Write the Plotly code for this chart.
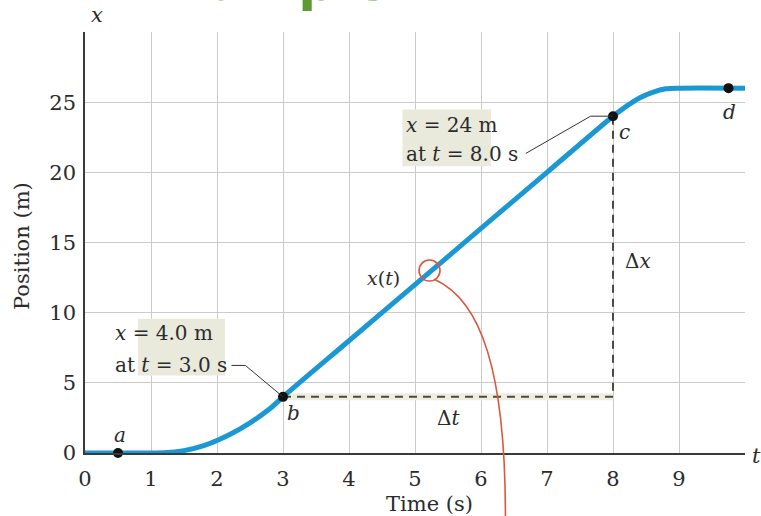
import plotly.graph_objects as go

# Position-time curve of the moving object (seconds, metres)
t_curve = [0.0, 0.5, 1.0, 1.2, 1.5, 1.8, 2.0, 2.2, 2.5, 2.8, 3.0,
           4.0, 5.0, 6.0, 7.0, 8.0, 8.2, 8.4, 8.6, 8.8, 9.0, 10.0]
x_curve = [0.0, 0.0, 0.0, 0.01, 0.17, 0.53, 0.89, 1.33, 2.15, 3.15, 4.0,
           8.0, 12.0, 16.0, 20.0, 24.0, 24.7, 25.3, 25.7, 25.95, 26.0, 26.0]

# Labelled instants a, b, c, d
point_names = ["a", "b", "c", "d"]
point_t = [0.5, 3.0, 8.0, 9.75]
point_x = [0.0, 4.0, 24.0, 26.0]

# Axis ticks
x_ticks = [0, 1, 2, 3, 4, 5, 6, 7, 8, 9, 10]
x_ticktext = ["0", "1", "2", "3", "4", "5", "6", "7", "8", "9", ""]
y_ticks = [0, 5, 10, 15, 20, 25, 30]
y_ticktext = ["0", "5", "10", "15", "20", "25", ""]

# Highlighted spot on x(t)
mark_t, mark_x = 5.22, 13.0

SERIF = "DejaVu Serif"
INK = "#2b2b2b"
BLUE = "#1b98d3"
RED = "#d9583e"
BOX = "#e9e9dc"

tb, xb = point_t[1], point_x[1]
tc, xc = point_t[2], point_x[2]

fig = go.Figure()

# pale band and dashed legs of the displacement triangle (b -> corner -> c)
fig.add_trace(go.Scatter(x=[tb, tc], y=[xb, xb], mode="lines",
                         line=dict(color="#eeeddf", width=7),
                         hoverinfo="skip", showlegend=False))
fig.add_trace(go.Scatter(x=[tb, tc, tc], y=[xb, xb, xc], mode="lines",
                         line=dict(color="#4a4a42", width=2, dash="8px,6px"),
                         hoverinfo="skip", showlegend=False))

# x(t)
fig.add_trace(go.Scatter(x=t_curve, y=x_curve, mode="lines",
                         line=dict(color=BLUE, width=5, shape="spline", smoothing=0.8),
                         hoverinfo="skip", showlegend=False))

# instants a-d
fig.add_trace(go.Scatter(x=point_t, y=point_x, mode="markers",
                         marker=dict(color="#111111", size=10),
                         cliponaxis=False, hoverinfo="skip", showlegend=False))

# red ring on the curve
fig.add_trace(go.Scatter(x=[mark_t], y=[mark_x], mode="markers",
                         marker=dict(symbol="circle-open", size=21, color=RED,
                                     line=dict(color=RED, width=1.6)),
                         cliponaxis=False, hoverinfo="skip", showlegend=False))

shapes = []
# callout boxes
shapes.append(dict(type="rect", xref="x", yref="y", x0=0.80, x1=2.12, y0=5.53, y1=9.57,
                   fillcolor=BOX, line=dict(width=0), layer="above"))
shapes.append(dict(type="rect", xref="x", yref="y", x0=4.81, x1=6.15, y0=20.43, y1=24.47,
                   fillcolor=BOX, line=dict(width=0), layer="above"))
# leader lines
shapes.append(dict(type="path", xref="x", yref="y",
                   path=f"M 2.22,6.24 L 2.43,6.24 L {tb},{xb}",
                   line=dict(color="#333333", width=1), layer="above"))
shapes.append(dict(type="path", xref="x", yref="y",
                   path=f"M 6.68,21.35 L 7.66,{xc} L {tc},{xc}",
                   line=dict(color="#333333", width=1), layer="above"))
# red pointer leaving the ring and running off the bottom
shapes.append(dict(type="path", xref="paper", yref="paper",
                   path="M 0.530,0.412 C 0.600,0.362 0.637,0.196 0.637,-0.15",
                   line=dict(color=RED, width=1.6), layer="above"))
fig.update_layout(shapes=shapes)

ann = []
def label(x, y, text, size=20, xanchor="center", xref="x", yref="y", color=INK, **kw):
    ann.append(dict(x=x, y=y, xref=xref, yref=yref, text=text, showarrow=False,
                    xanchor=xanchor, yanchor="middle",
                    font=dict(family=SERIF, size=size, color=color), **kw))

# callout texts
label(0.425, 8.52, "<i>x</i> = 4.0 m", xanchor="left")
label(0.425, 6.24, "at <i>t</i> = 3.0 s", xanchor="left")
label(4.84, 23.4, "<i>x</i> = 24 m", xanchor="left")
label(4.84, 21.28, "at <i>t</i> = 8.0 s", xanchor="left")

# point names
name_pos = [(0.53, 1.25), (3.16, 2.84), (8.17, 22.9), (9.76, 24.3)]
for nm, (px, py) in zip(point_names, name_pos):
    label(px, py, f"<i>{nm}</i>", size=20)

label(5.51, 2.48, "Δ<i>t</i>", size=20)
label(8.15, 13.7, "Δ<i>x</i>", size=20, xanchor="left")
label(4.81, 12.5, "<i>x</i>(<i>t</i>)", size=19, xanchor="right")

# axis names
label(0.018, 1.040, "<i>x</i>", size=21, xref="paper", yref="paper")
label(1.018, -0.007, "<i>t</i>", size=21, xref="paper", yref="paper")
label(-0.0955, 0.4917, "Position (m)", size=21, xref="paper", yref="paper", textangle=-90)
label(0.5227, -0.120, "Time (s)", size=21, xref="paper", yref="paper")

# green heading running off the top edge
ann.append(dict(x=0.2727, y=1.045, xref="paper", yref="paper", text="<b>Example</b>",
                showarrow=False, xanchor="center", yanchor="bottom", borderpad=0,
                font=dict(family="DejaVu Sans", size=52, color="#5b9b32")))

fig.update_layout(
    annotations=ann,
    width=761, height=516,
    margin=dict(l=85, r=16, t=32, b=63),
    paper_bgcolor="white", plot_bgcolor="white",
    xaxis=dict(range=[0, 10], tickvals=x_ticks, ticktext=x_ticktext,
               showgrid=True, gridcolor="#cbcbcb", gridwidth=1.2,
               zeroline=False, showline=True, linecolor="#3a3a3a", linewidth=2,
               ticks="", ticklabelstandoff=6,
               tickfont=dict(family=SERIF, size=21, color=INK), fixedrange=True),
    yaxis=dict(range=[0, 30], tickvals=y_ticks, ticktext=y_ticktext,
               showgrid=True, gridcolor="#cbcbcb", gridwidth=1.2,
               zeroline=False, showline=True, linecolor="#3a3a3a", linewidth=1.5,
               ticks="", ticklabelstandoff=3,
               tickfont=dict(family=SERIF, size=21, color=INK), fixedrange=True),
)

fig.write_html("out.html")
